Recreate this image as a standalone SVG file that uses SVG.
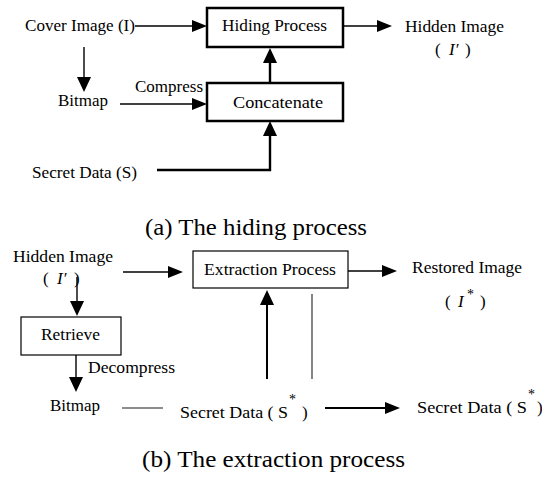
<svg xmlns="http://www.w3.org/2000/svg" width="542" height="478" viewBox="0 0 542 478">
<style>
text{font-family:"Liberation Serif","Times New Roman",serif;font-size:17px;fill:#000}
.cap{font-size:23px}
.it{font-style:italic}
.sup{font-size:14px}
.box{fill:#fff;stroke:#000}
.thick{stroke-width:2.5}
.thin{stroke-width:1.2}
.ln{fill:none;stroke:#000;stroke-width:1.4}
.lnb{fill:none;stroke:#000;stroke-width:2.4}
.gray{fill:none;stroke:#666;stroke-width:1.6}
</style>
<defs>
<marker id="ah" markerUnits="userSpaceOnUse" markerWidth="15" markerHeight="12" refX="0" refY="6" orient="auto">
<path d="M0,0 L15,6 L0,12 z" fill="#000"/>
</marker>
<marker id="av" markerUnits="userSpaceOnUse" markerWidth="15" markerHeight="14" refX="0" refY="7" orient="auto">
<path d="M0,0 L15,7 L0,14 z" fill="#000"/>
</marker>
</defs>

<g id="connectors">
<line class="ln" x1="135" y1="26" x2="192" y2="26" marker-end="url(#ah)"/>
<line class="ln" x1="343" y1="26" x2="377" y2="26" marker-end="url(#ah)"/>
<line class="ln" x1="84" y1="47" x2="84" y2="77" marker-end="url(#av)"/>
<line class="ln" x1="120" y1="104" x2="192" y2="104" marker-end="url(#ah)"/>
<line class="lnb" x1="270" y1="83" x2="270" y2="63" marker-end="url(#av)"/>
<polyline class="lnb" points="157,170 270,170 270,136" marker-end="url(#av)"/>

<line class="ln" x1="123" y1="272" x2="168" y2="272" marker-end="url(#ah)"/>
<line class="ln" x1="348" y1="271" x2="382" y2="271" marker-end="url(#ah)"/>
<line class="ln" x1="77" y1="277" x2="77" y2="301" marker-end="url(#av)"/>
<line class="ln" x1="76" y1="355" x2="76" y2="377" marker-end="url(#av)"/>
<line class="lnb" x1="267" y1="379" x2="267" y2="305" marker-end="url(#av)" style="stroke-width:2"/>
<line class="gray" x1="312" y1="294" x2="312" y2="379"/>
<line class="gray" x1="122" y1="408" x2="163" y2="408"/>
<line class="lnb" x1="325" y1="408" x2="385" y2="408" marker-end="url(#ah)" style="stroke-width:2"/>
</g>

<g id="cover-image"><text x="25" y="31" textLength="110" lengthAdjust="spacingAndGlyphs">Cover Image (I)</text></g>
<g id="hiding-process">
<rect class="box thick" x="207" y="8" width="136" height="39"/>
<text x="222" y="31" textLength="105" lengthAdjust="spacingAndGlyphs">Hiding Process</text>
</g>
<g id="hidden-image-a">
<text x="405" y="32" textLength="99" lengthAdjust="spacingAndGlyphs">Hidden Image</text>
<text x="435" y="55">(<tspan x="449" class="it">I′</tspan><tspan x="465">)</tspan></text>
</g>
<g id="bitmap-a"><text x="58" y="106" textLength="50" lengthAdjust="spacingAndGlyphs">Bitmap</text></g>
<g id="compress-label"><text x="135" y="92" textLength="68" lengthAdjust="spacingAndGlyphs">Compress</text></g>
<g id="concatenate">
<rect class="box thick" x="207" y="83" width="136" height="38"/>
<text x="233" y="108" textLength="90" lengthAdjust="spacingAndGlyphs">Concatenate</text>
</g>
<g id="secret-data-a"><text x="32" y="178" textLength="105" lengthAdjust="spacingAndGlyphs">Secret Data (S)</text></g>
<g id="caption-a"><text class="cap" x="145" y="235" textLength="222" lengthAdjust="spacingAndGlyphs">(a) The hiding process</text></g>

<g id="hidden-image-b">
<text x="13" y="262" textLength="100" lengthAdjust="spacingAndGlyphs">Hidden Image</text>
<text x="43" y="284">(<tspan x="57" class="it">I′</tspan><tspan x="74">)</tspan></text>
</g>
<g id="extraction-process">
<rect class="box thin" x="193" y="251" width="155" height="37"/>
<text x="204" y="275" textLength="132" lengthAdjust="spacingAndGlyphs">Extraction Process</text>
</g>
<g id="restored-image">
<text x="412" y="273" textLength="110" lengthAdjust="spacingAndGlyphs">Restored Image</text>
<text x="445" y="307">(<tspan x="458" class="it">I</tspan><tspan x="467" y="299" class="sup">*</tspan><tspan x="480" y="307">)</tspan></text>
</g>
<g id="retrieve">
<rect class="box thin" x="21" y="317" width="100" height="38"/>
<text x="41" y="340" textLength="59" lengthAdjust="spacingAndGlyphs">Retrieve</text>
</g>
<g id="decompress-label"><text x="88" y="373" textLength="87" lengthAdjust="spacingAndGlyphs">Decompress</text></g>
<g id="bitmap-b"><text x="50" y="411" textLength="50" lengthAdjust="spacingAndGlyphs">Bitmap</text></g>
<g id="secret-data-b">
<text x="180" y="418"><tspan textLength="108" lengthAdjust="spacingAndGlyphs">Secret Data ( S</tspan><tspan x="289" y="404" class="sup">*</tspan><tspan x="302" y="418">)</tspan></text>
</g>
<g id="secret-data-out">
<text x="417" y="413"><tspan textLength="110" lengthAdjust="spacingAndGlyphs">Secret Data ( S</tspan><tspan x="528" y="399" class="sup">*</tspan><tspan x="537" y="413">)</tspan></text>
</g>
<g id="caption-b"><text class="cap" x="142" y="467" textLength="263" lengthAdjust="spacingAndGlyphs">(b) The extraction process</text></g>
</svg>
